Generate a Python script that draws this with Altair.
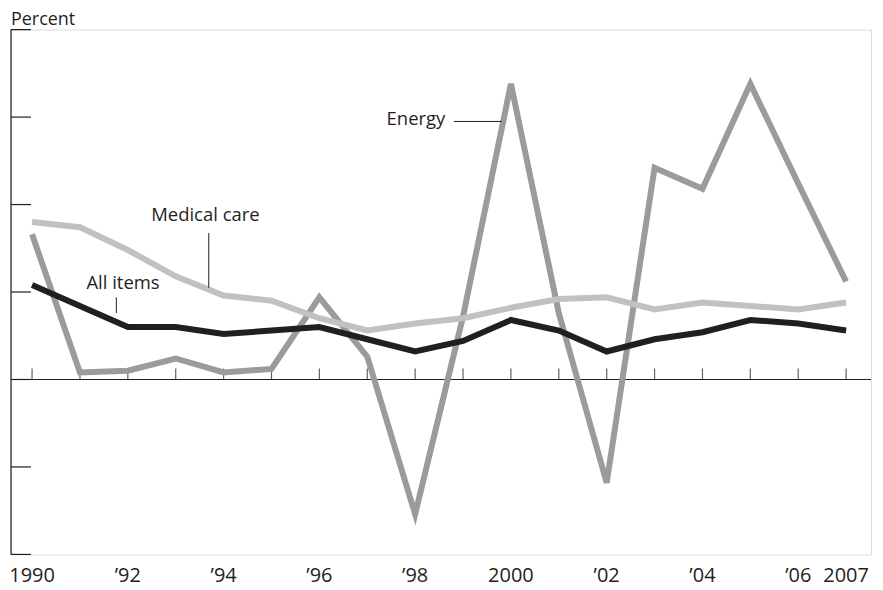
import altair as alt
import pandas as pd

years = list(range(1990, 2008))
all_items = [5.4, 4.2, 3.0, 3.0, 2.6, 2.8, 3.0, 2.3, 1.6, 2.2, 3.4, 2.8, 1.6, 2.3, 2.7, 3.4, 3.2, 2.8]
medical = [9.0, 8.7, 7.4, 5.9, 4.8, 4.5, 3.5, 2.8, 3.2, 3.5, 4.1, 4.6, 4.7, 4.0, 4.4, 4.2, 4.0, 4.4]
energy = [8.3, 0.4, 0.5, 1.2, 0.4, 0.6, 4.7, 1.3, -7.7, 3.6, 16.9, 3.8, -5.9, 12.1, 10.9, 16.9, 11.2, 5.6]

y_ticks = [-10, -5, 0, 5, 10, 15, 20]
label_years = [1990, 1992, 1994, 1996, 1998, 2000, 2002, 2004, 2006, 2007]
label_texts = ["1990", "\u201992", "\u201994", "\u201996", "\u201998", "2000", "\u201902", "\u201904", "\u201906", "2007"]

series_names = ["Energy", "Medical care", "All items"]
series_colors = ["#9a9b9e", "#c0c1c3", "#231f20"]

# annotation labels and leader lines
ann_text = ["Energy", "Medical care", "All items"]
ann_x = [1998.63, 1993.62, 1991.9]
ann_y = [14.9, 9.4, 5.5]
ann_align = ["right", "center", "center"]
lead_x = [1998.81, 1993.69, 1991.76]
lead_x2 = [1999.81, 1993.69, 1991.76]
lead_y = [14.75, 8.37, 4.7]
lead_y2 = [14.75, 5.24, 3.8]

W, H = 862, 526
FONT = "Open Sans"
ANN_SIZE = 18.5
YEAR_SIZE = 20

rows = []
for name, vals in zip(series_names, [energy, medical, all_items]):
    for yr, v in zip(years, vals):
        rows.append({"year": yr, "value": v, "series": name})
df = pd.DataFrame(rows)

xs = alt.Scale(domain=[1989.56, 2007.52], nice=False, zero=False)
ys = alt.Scale(domain=[y_ticks[0], y_ticks[-1]], nice=False, zero=False)

lines = alt.Chart(df).mark_line(strokeWidth=6, strokeJoin="miter", strokeCap="butt").encode(
    x=alt.X("year:Q", scale=xs, axis=None),
    y=alt.Y("value:Q", scale=ys, axis=None),
    color=alt.Color("series:N", scale=alt.Scale(domain=series_names, range=series_colors), legend=None),
    order=alt.Order("year:Q"),
    detail="series:N",
)

tick_df = pd.DataFrame({"t": y_ticks})
yticks = alt.Chart(tick_df).mark_rule(color="#231f20", strokeWidth=1.2).encode(
    y=alt.Y("t:Q", scale=ys, axis=None),
    x=alt.value(0),
    x2=alt.value(20),
)

yaxis_line = alt.Chart(pd.DataFrame({"a": [y_ticks[0]], "b": [y_ticks[-1]]})).mark_rule(
    color="#231f20", strokeWidth=1.2
).encode(
    y=alt.Y("a:Q", scale=ys, axis=None),
    y2="b:Q",
    x=alt.value(0),
)

zero_line = alt.Chart(pd.DataFrame({"z": [0]})).mark_rule(color="#231f20", strokeWidth=1.2).encode(
    y=alt.Y("z:Q", scale=ys, axis=None),
    x=alt.value(0),
    x2=alt.value(W),
)

xtick_df = pd.DataFrame({"year": years, "z": [0] * len(years)})
xticks = alt.Chart(xtick_df).mark_tick(
    orient="vertical", size=11, thickness=1.2, color="#231f20", yOffset=-5.5
).encode(
    x=alt.X("year:Q", scale=xs, axis=None),
    y=alt.Y("z:Q", scale=ys, axis=None),
)

xlabels = alt.Chart(pd.DataFrame({"year": label_years, "lab": label_texts})).mark_text(
    font=FONT, fontSize=YEAR_SIZE, color="#231f20", baseline="middle", align="center"
).encode(
    x=alt.X("year:Q", scale=xs, axis=None),
    y=alt.value(H + 22),
    text="lab:N",
)

ann_df = pd.DataFrame({"text": ann_text, "x": ann_x, "y": ann_y, "align": ann_align})
ann_layers = []
for i in range(len(ann_text)):
    sub = ann_df.iloc[[i]]
    ann_layers.append(
        alt.Chart(sub).mark_text(
            font=FONT, fontSize=ANN_SIZE, color="#231f20", baseline="middle", align=ann_align[i]
        ).encode(
            x=alt.X("x:Q", scale=xs, axis=None),
            y=alt.Y("y:Q", scale=ys, axis=None),
            text="text:N",
        )
    )

lead_df = pd.DataFrame({"x": lead_x, "x2": lead_x2, "y": lead_y, "y2": lead_y2})
leaders = alt.Chart(lead_df).mark_rule(color="#231f20", strokeWidth=1).encode(
    x=alt.X("x:Q", scale=xs, axis=None),
    x2="x2:Q",
    y=alt.Y("y:Q", scale=ys, axis=None),
    y2="y2:Q",
)

percent = alt.Chart(pd.DataFrame({"t": ["Percent"]})).mark_text(
    font=FONT, fontSize=18, color="#231f20", align="left", baseline="top"
).encode(
    x=alt.value(0),
    y=alt.value(-19),
    text="t:N",
)

chart = alt.layer(
    yaxis_line, yticks, zero_line, xticks, lines, leaders, *ann_layers, xlabels, percent
).properties(
    width=W, height=H,
    autosize=alt.AutoSizeParams(type="pad"),
    padding={"left": 1, "top": 2, "right": 3, "bottom": 4},
).configure_view(stroke=None).configure(background="white")

chart.save("out.html", embed_options={"renderer": "svg", "actions": False})
